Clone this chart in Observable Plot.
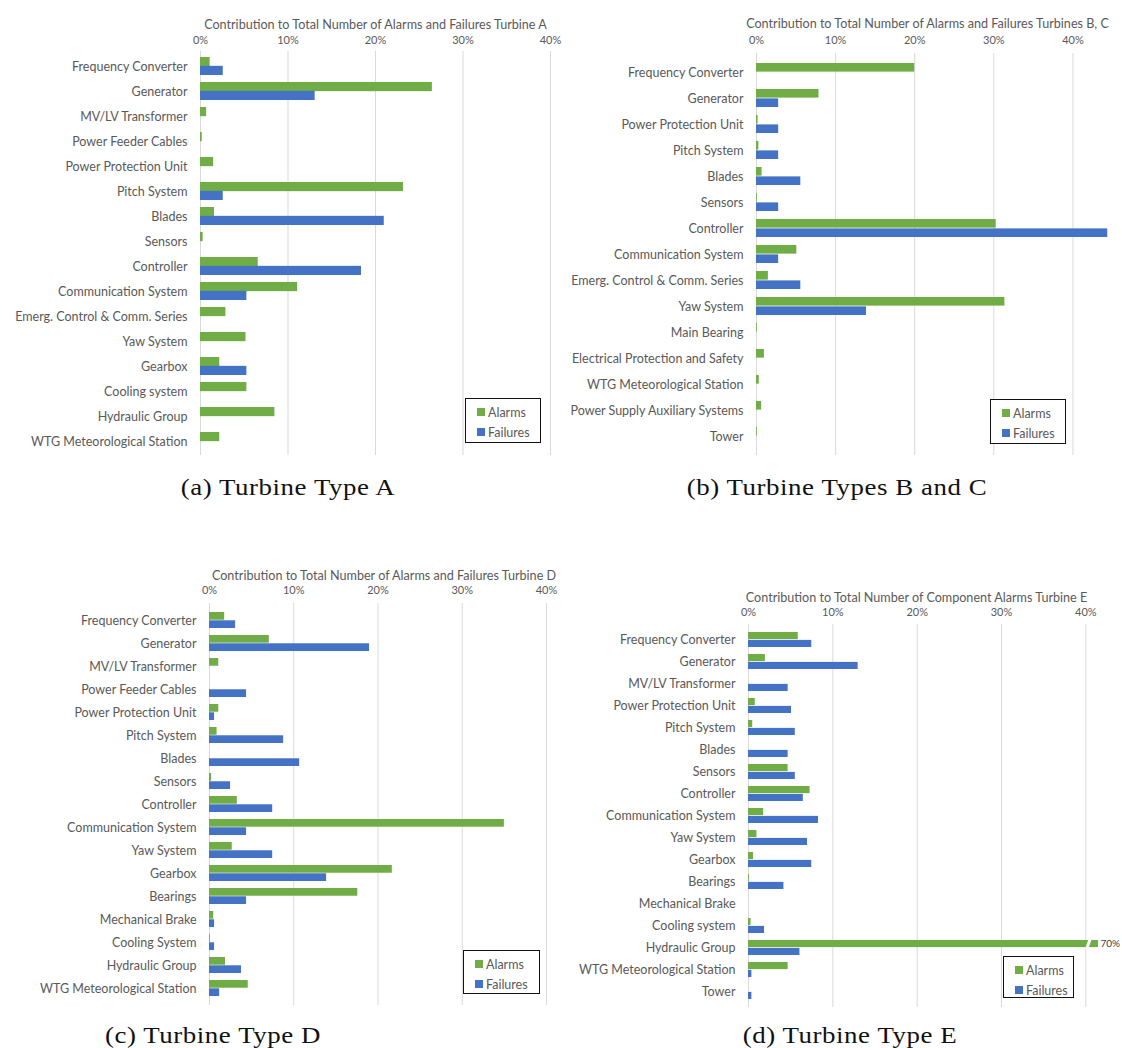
<!DOCTYPE html>
<html>
<head>
<meta charset="utf-8">
<script src="https://cdn.jsdelivr.net/npm/d3@7"></script>
<script src="https://cdn.jsdelivr.net/npm/@observablehq/plot@0.6"></script>
<style>
  body { margin: 0; background: #fff; }
  #page { position: relative; width: 1122px; height: 1048px; overflow: hidden; font-family: Lato, "Open Sans", sans-serif; }
  .panel { position: absolute; }
  .legend { position: absolute; box-sizing: border-box; border: 1.3px solid #111; background: #fff;
            font: 12.5px Lato, sans-serif; color: #595959; padding: 3px 0 0 11px; }
  .legend .item { display: flex; align-items: center; height: 20px; }
  .legend .swatch { width: 8px; height: 8px; margin-right: 3px; }
  .caption { position: absolute; transform: translateX(-50%) scaleX(1.12); white-space: nowrap;
             font-family: "Liberation Serif", serif; font-size: 24px; line-height: 24px; color: #111; letter-spacing: 0.5px; }
</style>
</head>
<body>
<div id="page"></div>
<script>
// Share of all alarms / failures per component, in percent.
const GREEN = "#70AD47";
const BLUE = "#4472C4";
const xTicks = [0, 10, 20, 30, 40];

// Turbine A
const catsA = ["Frequency Converter", "Generator", "MV/LV Transformer", "Power Feeder Cables", "Power Protection Unit",
  "Pitch System", "Blades", "Sensors", "Controller", "Communication System", "Emerg. Control & Comm. Series",
  "Yaw System", "Gearbox", "Cooling system", "Hydraulic Group", "WTG Meteorological Station"];
const alarmsA = [1.1, 26.5, 0.7, 0.2, 1.5, 23.2, 1.6, 0.3, 6.6, 11.1, 2.9, 5.2, 2.2, 5.3, 8.5, 2.2];
const failuresA = [2.6, 13.1, 0, 0, 0, 2.6, 21.0, 0, 18.4, 5.3, 0, 0, 5.3, 0, 0, 0];

// Turbines B and C
const catsB = ["Frequency Converter", "Generator", "Power Protection Unit", "Pitch System", "Blades", "Sensors",
  "Controller", "Communication System", "Emerg. Control & Comm. Series", "Yaw System", "Main Bearing",
  "Electrical Protection and Safety", "WTG Meteorological Station", "Power Supply Auxiliary Systems", "Tower"];
const alarmsB = [20.0, 7.9, 0.2, 0.3, 0.7, 0.1, 30.3, 5.1, 1.5, 31.4, 0.1, 1.0, 0.35, 0.65, 0.1];
const failuresB = [0, 2.8, 2.8, 2.8, 5.6, 2.8, 44.4, 2.8, 5.6, 13.9, 0, 0, 0, 0, 0];

// Turbine D
const catsD = ["Frequency Converter", "Generator", "MV/LV Transformer", "Power Feeder Cables", "Power Protection Unit",
  "Pitch System", "Blades", "Sensors", "Controller", "Communication System", "Yaw System", "Gearbox", "Bearings",
  "Mechanical Brake", "Cooling System", "Hydraulic Group", "WTG Meteorological Station"];
const alarmsD = [1.8, 7.1, 1.1, 0, 1.1, 0.9, 0, 0.25, 3.3, 35.0, 2.7, 21.7, 17.6, 0.5, 0.1, 1.9, 4.6];
const failuresD = [3.1, 19.0, 0, 4.4, 0.6, 8.8, 10.7, 2.5, 7.5, 4.4, 7.5, 13.9, 4.4, 0.6, 0.6, 3.8, 1.2];

// Turbine E
const catsE = ["Frequency Converter", "Generator", "MV/LV Transformer", "Power Protection Unit", "Pitch System",
  "Blades", "Sensors", "Controller", "Communication System", "Yaw System", "Gearbox", "Bearings",
  "Mechanical Brake", "Cooling system", "Hydraulic Group", "WTG Meteorological Station", "Tower"];
const alarmsE = [5.9, 2.0, 0, 0.8, 0.5, 0, 4.7, 7.3, 1.8, 1.0, 0.6, 0.1, 0, 0.3, 70, 4.7, 0];
const failuresE = [7.5, 13.0, 4.7, 5.1, 5.55, 4.7, 5.55, 6.5, 8.3, 7.0, 7.5, 4.2, 0, 1.9, 6.1, 0.4, 0.4];

const page = document.getElementById("page");

// A slanted white gap used to mark a bar that runs past the axis.
const breakSymbol = {
  draw(ctx, size) {
    const r = Math.sqrt(size / Math.PI), w = 1.6, k = r * 0.35;
    ctx.moveTo(-w + k, -r);
    ctx.lineTo(w + k, -r);
    ctx.lineTo(w - k, r);
    ctx.lineTo(-w - k, r);
    ctx.closePath();
  }
};

function drawPanel(cfg, cats, alarms, failures) {
  const n = cats.length;
  const step = (cfg.height - cfg.marginTop - cfg.marginBottom) / n;
  const half = step * (1 - cfg.padInner) / 2;
  const alarmRows = cats.map((c, i) => ({component: c, value: alarms[i]}));
  const failureRows = cats.map((c, i) => ({component: c, value: failures[i]}));
  const overflow = alarmRows.filter(d => d.value > cfg.xMax);

  const chart = Plot.plot({
    width: cfg.width,
    height: cfg.height,
    marginLeft: cfg.marginLeft,
    marginRight: cfg.marginRight,
    marginTop: cfg.marginTop,
    marginBottom: cfg.marginBottom,
    style: {fontFamily: "Lato, sans-serif", color: "#595959", background: "transparent", overflow: "visible"},
    x: {domain: [0, cfg.xMax]},
    y: {domain: cats, paddingInner: cfg.padInner, paddingOuter: cfg.padInner / 2, align: 0.5},
    marks: [
      Plot.ruleX(xTicks, {stroke: "#d9d9d9", strokeWidth: 1}),
      Plot.barX(alarmRows, {x: "value", y: "component", fill: GREEN, insetBottom: half, clip: true}),
      Plot.barX(failureRows, {x: "value", y: "component", fill: BLUE, insetTop: half, clip: true}),
      Plot.dot(overflow, {x: () => cfg.breakAt, y: "component", dy: -half / 2, r: half / 2 + 1.5,
        symbol: breakSymbol, fill: "white", stroke: "none"}),
      Plot.text(overflow, {x: () => cfg.xMax, y: "component", dy: -half / 2, dx: 2, text: d => `${d.value}%`,
        textAnchor: "start", fontSize: 10, fill: "#404040"}),
      Plot.axisX({anchor: "top", ticks: xTicks, tickSize: 0, tickPadding: cfg.marginTop - cfg.tickY - 6,
        tickFormat: d => `${d}%`, fontSize: 11, label: null}),
      Plot.axisY({tickSize: 0, tickPadding: 13, fontSize: 12.5, label: null}),
      Plot.text([cfg.title], {text: d => d, frameAnchor: "top", dy: cfg.titleY - cfg.marginTop, dx: cfg.titleDx,
        fontSize: 12.6})
    ]
  });
  chart.classList.add("panel");
  chart.style.left = cfg.left + "px";
  chart.style.top = cfg.top + "px";
  page.appendChild(chart);
}

function drawLegend(box) {
  const div = document.createElement("div");
  div.className = "legend";
  Object.assign(div.style, {left: box.left + "px", top: box.top + "px", width: box.width + "px", height: box.height + "px"});
  for (const [label, color] of [["Alarms", GREEN], ["Failures", BLUE]]) {
    const item = document.createElement("div");
    item.className = "item";
    const sw = document.createElement("span");
    sw.className = "swatch";
    sw.style.background = color;
    item.appendChild(sw);
    item.appendChild(document.createTextNode(label));
    div.appendChild(item);
  }
  page.appendChild(div);
}

function drawCaption(text, cx, top) {
  const div = document.createElement("div");
  div.className = "caption";
  div.textContent = text;
  div.style.left = cx + "px";
  div.style.top = top + "px";
  page.appendChild(div);
}

drawPanel({left: 0, top: 0, width: 560, height: 470, marginLeft: 200, marginRight: 10, marginTop: 51, marginBottom: 15,
  xMax: 40, padInner: 0.3, titleY: 20, tickY: 37, titleDx: 0,
  title: "Contribution to Total Number of Alarms and Failures Turbine A"}, catsA, alarmsA, failuresA);

drawPanel({left: 560, top: 0, width: 562, height: 470, marginLeft: 196, marginRight: 10, marginTop: 53, marginBottom: 15,
  xMax: 45, padInner: 0.3, titleY: 19, tickY: 37, titleDx: -7,
  title: "Contribution to Total Number of Alarms and Failures Turbines B, C"}, catsB, alarmsB, failuresB);

drawPanel({left: 0, top: 540, width: 560, height: 480, marginLeft: 209, marginRight: 14, marginTop: 63, marginBottom: 15,
  xMax: 40, padInner: 0.3, titleY: 31, tickY: 47, titleDx: 6,
  title: "Contribution to Total Number of Alarms and Failures Turbine D"}, catsD, alarmsD, failuresD);

drawPanel({left: 560, top: 560, width: 562, height: 460, marginLeft: 188, marginRight: 24, marginTop: 64, marginBottom: 13,
  xMax: 41.5, padInner: 0.3, titleY: 33, tickY: 49, titleDx: -7, breakAt: 40.3,
  title: "Contribution to Total Number of Component Alarms Turbine E"}, catsE, alarmsE, failuresE);

drawLegend({left: 465, top: 398, width: 76, height: 45});
drawLegend({left: 990, top: 399, width: 76, height: 45});
drawLegend({left: 463, top: 950, width: 77, height: 44});
drawLegend({left: 1003, top: 956, width: 71, height: 42});

drawCaption("(a) Turbine Type A", 288, 475);
drawCaption("(b) Turbine Types B and C", 837, 475);
drawCaption("(c) Turbine Type D", 213, 1023);
drawCaption("(d) Turbine Type E", 850, 1023);
</script>
</body>
</html>
